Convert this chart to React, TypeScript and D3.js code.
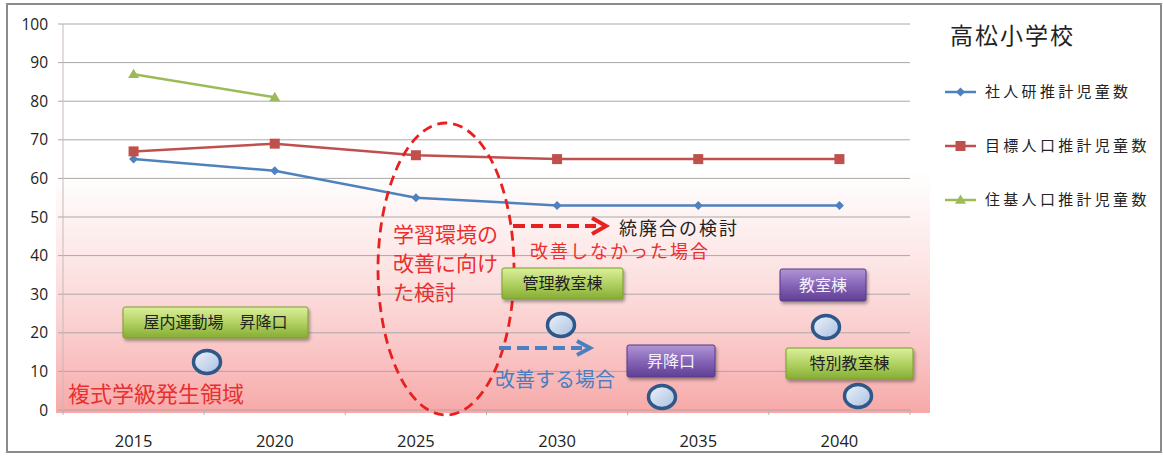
import * as d3 from "d3";

const W = 1163;
const H = 456;

const years = ["2015", "2020", "2025", "2030", "2035", "2040"];
const shajinken = [65, 62, 55, 53, 53, 53];
const mokuhyo = [67, 69, 66, 65, 65, 65];
const juki = [87, 81];
const yTicks = [0, 10, 20, 30, 40, 50, 60, 70, 80, 90, 100];

const seriesNames = ["社人研推計児童数", "目標人口推計児童数", "住基人口推計児童数"];
const seriesColors = ["#4f81bd", "#c0504d", "#9bbb59"];

const JP = "'Noto Sans CJK JP', 'Noto Sans', sans-serif";
const NUM = "'Open Sans', 'Noto Sans', sans-serif";

// annotation boxes / circles (layout only)
const boxes = [
  { label: "屋内運動場　昇降口", x: 123, y: 307, w: 185, h: 31, kind: "green" },
  { label: "管理教室棟", x: 502, y: 268, w: 121, h: 31, kind: "green" },
  { label: "昇降口", x: 627, y: 345, w: 88, h: 32, kind: "purple" },
  { label: "教室棟", x: 780, y: 269, w: 86, h: 32, kind: "purple" },
  { label: "特別教室棟", x: 786, y: 348, w: 127, h: 31, kind: "green" },
];
const circles = [
  [207, 362],
  [561, 325],
  [662, 397],
  [826, 327],
  [858, 396],
];

const Marker = ({ i, x, y }: { i: number; x: number; y: number }) => {
  if (i === 0) {
    const s = 4.5;
    return (
      <path
        d={`M${x},${y - s}L${x + s},${y}L${x},${y + s}L${x - s},${y}Z`}
        fill={seriesColors[0]}
      />
    );
  }
  if (i === 1) {
    return <rect x={x - 5} y={y - 5} width={10} height={10} fill={seriesColors[1]} />;
  }
  const s = 5.5;
  return (
    <path
      d={`M${x},${y - s}L${x + s},${y + s * 0.7}L${x - s},${y + s * 0.7}Z`}
      fill={seriesColors[2]}
    />
  );
};

export default function App() {
  const x = d3.scaleBand().domain(years).range([63, 910]);
  const y = d3.scaleLinear().domain([0, 100]).range([410, 24]);
  const cx = (yr: string) => (x(yr) ?? 0) + x.bandwidth() / 2;

  const line = d3
    .line<[string, number]>()
    .x((d) => cx(d[0]))
    .y((d) => y(d[1]));

  const data = [shajinken, mokuhyo, juki].map((vals) =>
    vals.map((v, i) => [years[i], v] as [string, number])
  );

  const edges = years.map((yr) => x(yr) ?? 0).concat([x.range()[1]]);

  return (
    <svg
      width={W}
      height={H}
      style={{ position: "absolute", left: 0, top: 0, background: "#fff" }}
    >
      <defs>
        <linearGradient id="pink" x1="0" y1="0" x2="0" y2="1">
          <stop offset="0" stopColor="#fde6e6" stopOpacity="0" />
          <stop offset="0.25" stopColor="#fde3e3" stopOpacity="0.6" />
          <stop offset="1" stopColor="#f7a8a8" />
        </linearGradient>
        <linearGradient id="gbox" x1="0" y1="0" x2="0" y2="1">
          <stop offset="0" stopColor="#dcef9a" />
          <stop offset="0.5" stopColor="#b2d264" />
          <stop offset="1" stopColor="#86ad33" />
        </linearGradient>
        <linearGradient id="pbox" x1="0" y1="0" x2="0" y2="1">
          <stop offset="0" stopColor="#b096d4" />
          <stop offset="0.5" stopColor="#8665b8" />
          <stop offset="1" stopColor="#5f3f93" />
        </linearGradient>
        <linearGradient id="cfill" x1="0" y1="0" x2="1" y2="1">
          <stop offset="0" stopColor="#eef3fb" />
          <stop offset="1" stopColor="#a7bfe0" />
        </linearGradient>
        <filter id="shadow" x="-10%" y="-20%" width="130%" height="160%">
          <feDropShadow dx="1.5" dy="2.5" stdDeviation="1.5" floodColor="#000" floodOpacity="0.35" />
        </filter>
      </defs>

      {/* outer frame */}
      <rect x={7} y={4} width={1154} height={448} fill="#fff" stroke="#8c8c8c" strokeWidth={2} />

      {/* pink region */}
      <rect x={56} y={y(62)} width={874} height={413 - y(62)} fill="url(#pink)" />

      {/* grid */}
      {yTicks.map((t) => (
        <g key={t}>
          <line
            x1={58}
            x2={910}
            y1={y(t)}
            y2={y(t)}
            stroke={t === 0 ? "#b8a0a0" : "#a8a8a8"}
            strokeWidth={1}
          />
          <text
            x={48}
            y={y(t)}
            dy="0.36em"
            textAnchor="end"
            fontFamily={NUM}
            fontSize={15.5}
            fill="#222"
          >
            {t}
          </text>
        </g>
      ))}
      <line x1={63} x2={63} y1={y(100)} y2={y(0)} stroke="#c8b8b8" strokeWidth={1} />
      {edges.map((e, i) => (
        <line key={i} x1={e} x2={e} y1={y(0)} y2={y(0) + 5} stroke="#b0b0b0" strokeWidth={1} />
      ))}
      {years.map((yr) => (
        <text
          key={yr}
          x={cx(yr)}
          y={447}
          textAnchor="middle"
          fontFamily={NUM}
          fontSize={16.5}
          fill="#222"
        >
          {yr}
        </text>
      ))}

      {/* series */}
      {data.map((d, i) => (
        <g key={i}>
          <path d={line(d) ?? ""} fill="none" stroke={seriesColors[i]} strokeWidth={2.5} />
          {d.map((p, j) => (
            <Marker key={j} i={i} x={cx(p[0])} y={y(p[1])} />
          ))}
        </g>
      ))}

      {/* legend */}
      <text x={950} y={44} fontFamily={JP} fontSize={23} letterSpacing={2} fill="#222">
        高松小学校
      </text>
      {seriesNames.map((n, i) => {
        const ly = 92 + i * 54;
        return (
          <g key={n}>
            <line x1={945} x2={976} y1={ly} y2={ly} stroke={seriesColors[i]} strokeWidth={2.5} />
            <Marker i={i} x={960.5} y={ly} />
            <text x={985} y={ly} dy="0.36em" fontFamily={JP} fontSize={15} letterSpacing={3.3} fill="#222">
              {n}
            </text>
          </g>
        );
      })}

      {/* annotations */}
      <text x={68} y={402} fontFamily={JP} fontSize={22} fill="#e83030">
        複式学級発生領域
      </text>

      <ellipse
        cx={446}
        cy={269}
        rx={68}
        ry={146}
        fill="none"
        stroke="#e82020"
        strokeWidth={2.8}
        strokeDasharray="10 6"
      />
      {["学習環境の", "改善に向け", "た検討"].map((t, i) => (
        <text key={t} x={393} y={242 + i * 29} fontFamily={JP} fontSize={21} fill="#e83030">
          {t}
        </text>
      ))}

      <line x1={513} x2={596} y1={226} y2={226} stroke="#e82020" strokeWidth={4} strokeDasharray="12 6" />
      <path d="M592,218 L606,226 L592,234" fill="none" stroke="#e82020" strokeWidth={4} />
      <text x={619} y={235} fontFamily={JP} fontSize={18} letterSpacing={2} fill="#222">
        統廃合の検討
      </text>
      <text x={530} y={258} fontFamily={JP} fontSize={18} letterSpacing={2} fill="#e83030">
        改善しなかった場合
      </text>

      <line x1={499} x2={582} y1={348} y2={348} stroke="#4a7fc1" strokeWidth={4} strokeDasharray="12 6" />
      <path d="M577,341 L590,348 L577,355" fill="none" stroke="#4a7fc1" strokeWidth={4} />
      <text x={495} y={387} fontFamily={JP} fontSize={20} fill="#4a7fc1">
        改善する場合
      </text>

      {boxes.map((b) => (
        <g key={b.label}>
          <rect
            x={b.x}
            y={b.y}
            width={b.w}
            height={b.h}
            rx={2}
            fill={b.kind === "green" ? "url(#gbox)" : "url(#pbox)"}
            stroke={b.kind === "green" ? "#7b9c2e" : "#56398a"}
            strokeWidth={1}
            filter="url(#shadow)"
          />
          <text
            x={b.x + b.w / 2}
            y={b.y + b.h / 2}
            dy="0.36em"
            textAnchor="middle"
            fontFamily={JP}
            fontSize={16}
            fill={b.kind === "green" ? "#222" : "#f4f0fa"}
          >
            {b.label}
          </text>
        </g>
      ))}

      {circles.map(([px, py], i) => (
        <ellipse
          key={i}
          cx={px}
          cy={py}
          rx={13.5}
          ry={11.5}
          fill="url(#cfill)"
          stroke="#2f5888"
          strokeWidth={3.5}
        />
      ))}
    </svg>
  );
}
